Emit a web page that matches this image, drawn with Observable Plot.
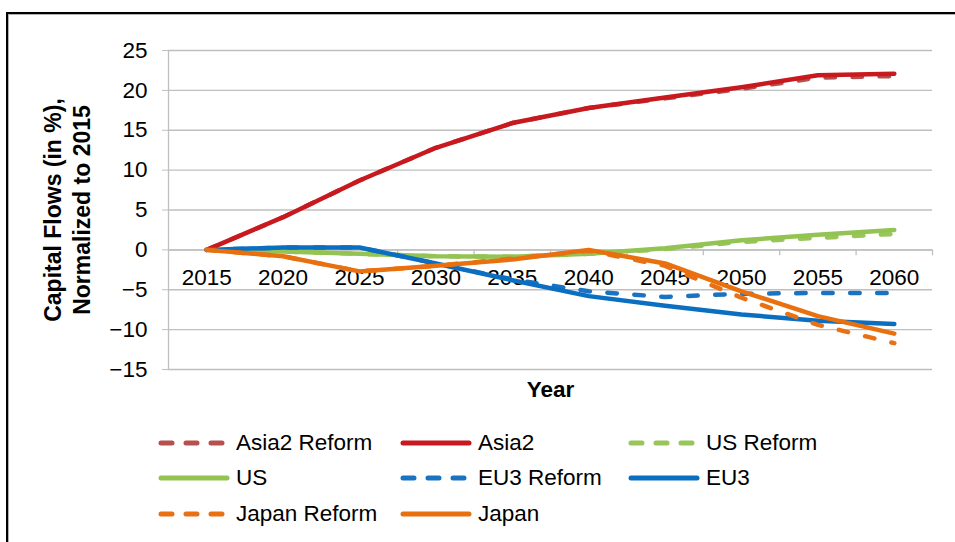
<!DOCTYPE html>
<html>
<head>
<meta charset="utf-8">
<script src="https://cdn.jsdelivr.net/npm/d3@7"></script>
<script src="https://cdn.jsdelivr.net/npm/@observablehq/plot@0.6"></script>
<style>
  html, body { margin: 0; padding: 0; background: #fff; }
  body { width: 955px; height: 542px; position: relative; overflow: hidden;
         font-family: "Liberation Sans", Arial, sans-serif; }
  #frame { position: absolute; left: 6px; top: 12px; width: 960px; height: 540px;
           border-left: 2px solid #000; border-top: 2px solid #000;
           box-shadow: inset 1px 1px 0 #b0b0b0; pointer-events: none; }
  #chart { position: absolute; left: 0; top: 0; }
  #legend { position: absolute; left: 158px; top: 425px;
            display: grid; grid-template-columns: 242px 228px 240px; grid-auto-rows: 35.5px;
            font-size: 22.5px; color: #000; }
  .item { display: flex; align-items: center; white-space: nowrap; }
  .item svg { margin-right: 6px; flex: none; }
</style>
</head>
<body>
<div id="chart"></div>
<div id="legend"></div>
<div id="frame"></div>
<script>
// ---- data ----
const years = [2015, 2020, 2025, 2030, 2035, 2040, 2045, 2050, 2055, 2060];
const asia2Reform = [0, 4.1, 8.7, 12.8, 15.9, 17.8, 19.0, 20.2, 21.6, 21.8];
const asia2       = [0, 4.1, 8.7, 12.8, 15.9, 17.8, 19.1, 20.4, 21.9, 22.1];
const usReform    = [0, -0.2, -0.5, -0.8, -0.85, -0.5, 0.1, 1.0, 1.5, 2.0];
const us          = [0, -0.2, -0.5, -0.8, -0.85, -0.5, 0.2, 1.2, 1.9, 2.5];
const eu3Reform   = [0, 0.3, 0.3, -1.7, -3.7, -5.2, -5.9, -5.5, -5.4, -5.4];
const eu3         = [0, 0.3, 0.3, -1.7, -3.8, -5.8, -7.0, -8.1, -8.9, -9.3];
const japanReform = [0, -0.8, -2.7, -2.0, -1.1, -0.1, -2.0, -6.0, -9.4, -11.7];
const japan       = [0, -0.8, -2.7, -2.0, -1.2, 0.0, -1.7, -5.2, -8.3, -10.5];

const seriesNames  = ["Asia2 Reform", "Asia2", "US Reform", "US", "EU3 Reform", "EU3", "Japan Reform", "Japan"];
const seriesValues = [asia2Reform, asia2, usReform, us, eu3Reform, eu3, japanReform, japan];
const seriesColors = ["#b5504e", "#c8191e", "#98c65a", "#93c353", "#1a72c2", "#0a6fc0", "#ea7014", "#e8700e"];
const seriesDashed = [true, false, true, false, true, false, true, false];

const yTicks = [-15, -10, -5, 0, 5, 10, 15, 20, 25];
const xDomain = [2012.5, 2062.5];
const xBoundaries = [2017.5, 2022.5, 2027.5, 2032.5, 2037.5, 2042.5, 2047.5, 2052.5, 2057.5, 2062.5];
const yTitle = "Capital Flows (in %),\nNormalized to 2015";
const xTitle = "Year";

// tidy rows
const rows = [];
seriesNames.forEach((name, i) => {
  years.forEach((yr, j) => rows.push({series: name, year: yr, value: seriesValues[i][j]}));
});

const grid = "#bfbfbf";
const dash = "9.5,17.5";
const lineMarks = seriesNames.map((name, i) =>
  Plot.line(rows.filter(r => r.series === name), {
    x: "year", y: "value",
    stroke: seriesColors[i], strokeWidth: 4.5,
    strokeDasharray: seriesDashed[i] ? dash : null,
    strokeLinecap: "round", strokeLinejoin: "round"
  })
);

const fmt = d => d < 0 ? "\u2212" + Math.abs(d) : String(d);

const chart = Plot.plot({
  width: 955, height: 410,
  marginLeft: 168, marginRight: 23, marginTop: 50, marginBottom: 41,
  style: {fontFamily: "'Liberation Sans', Arial, sans-serif", fontSize: "22.5px", color: "#000", background: "transparent"},
  x: {domain: xDomain, axis: null},
  y: {domain: [yTicks[0], yTicks[yTicks.length - 1]]},
  marks: [
    Plot.gridY(yTicks, {stroke: grid, strokeOpacity: 1, strokeWidth: 1.3}),
    Plot.ruleX([xDomain[0]], {stroke: grid, strokeWidth: 1.3}),
    Plot.axisY(yTicks, {tickSize: 6, tickPadding: 15, stroke: grid, strokeOpacity: 1, tickFormat: fmt, label: null, fontSize: 22.5}),
    Plot.ruleY([0], {stroke: grid, strokeWidth: 1.5}),
    Plot.ruleX(xBoundaries, {y1: 0, y2: -0.75, stroke: grid, strokeWidth: 1.3}),
    Plot.text(years, {x: d => d, y: 0, dy: 28, text: d => String(d), fontSize: 22.5, fill: "#000"}),
    ...lineMarks,
    Plot.text([xTitle], {frameAnchor: "bottom", dy: 27, text: d => d, fontWeight: "bold", fontSize: 22.5, fill: "#000"}),
    Plot.text([yTitle], {frameAnchor: "left", dx: -102, rotate: -90, textAnchor: "middle", lineAnchor: "middle", text: d => d, fontWeight: "bold", fontSize: 23, lineHeight: 1.22, fill: "#000"})
  ]
});
document.getElementById("chart").appendChild(chart);

// legend
const legend = document.getElementById("legend");
seriesNames.forEach((name, i) => {
  const item = document.createElement("div");
  item.className = "item";
  const ns = "http://www.w3.org/2000/svg";
  const svg = document.createElementNS(ns, "svg");
  svg.setAttribute("width", 72); svg.setAttribute("height", 10);
  const ln = document.createElementNS(ns, "line");
  ln.setAttribute("x1", 3); ln.setAttribute("x2", 69);
  ln.setAttribute("y1", 5); ln.setAttribute("y2", 5);
  ln.setAttribute("stroke", seriesColors[i]);
  ln.setAttribute("stroke-width", 5);
  ln.setAttribute("stroke-linecap", "round");
  if (seriesDashed[i]) ln.setAttribute("stroke-dasharray", "11,14");
  svg.appendChild(ln);
  item.appendChild(svg);
  const span = document.createElement("span");
  span.textContent = name;
  item.appendChild(span);
  legend.appendChild(item);
});
</script>
</body>
</html>
